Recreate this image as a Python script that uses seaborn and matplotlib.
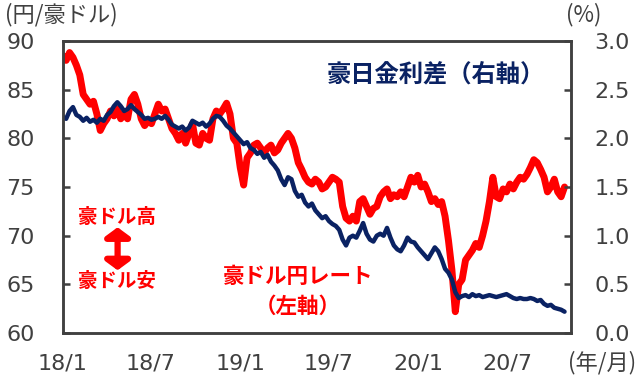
import pandas as pd
import matplotlib
matplotlib.use("Agg")
import matplotlib.pyplot as plt
import seaborn as sns

# weekly readings, starting first week of Jan 2018
start_date = "2018-01-01"

aud_jpy = [
    88.5, 88.0, 88.8, 88.3, 87.5, 86.5, 84.5, 84.0, 83.5, 83.8,
    82.5, 80.8, 81.5, 82.0, 82.8, 82.3, 83.0, 82.0, 82.5, 82.0,
    84.0, 84.5, 83.5, 82.0, 81.3, 81.8, 81.5, 82.5, 83.5, 82.8,
    83.0, 82.0, 81.0, 80.5, 79.8, 80.5, 79.5, 80.5, 81.5, 79.5,
    79.3, 80.5, 80.0, 79.8, 82.0, 82.8, 82.5, 83.0, 83.6, 82.5,
    80.0, 79.5, 77.0, 75.2, 78.0, 78.5, 79.3, 79.5, 79.0, 78.5,
    79.0, 79.3, 78.5, 78.8, 79.5, 80.0, 80.5, 80.0, 79.0, 77.5,
    76.8, 76.0, 75.5, 75.3, 75.8, 75.5, 74.8, 75.0, 75.5, 76.0,
    75.8, 75.5, 73.0, 71.8, 71.5, 72.0, 71.5, 73.5, 73.8, 73.0,
    72.2, 72.8, 73.0, 74.0, 74.5, 74.8, 73.8, 74.2, 74.0, 74.5,
    74.0, 75.0, 76.0, 75.5, 76.2, 75.0, 75.3, 74.5, 73.5, 73.8,
    73.2, 73.5, 72.0, 69.5, 66.5, 62.2, 65.0, 65.5, 67.5, 68.0,
    68.5, 69.2, 68.8, 70.0, 71.5, 73.5, 76.0, 74.0, 73.8, 74.8,
    74.5, 75.3, 74.8, 75.5, 76.0, 75.8, 76.3, 77.0, 77.8, 77.5,
    76.8, 76.0, 74.5, 75.0, 75.8, 74.5, 74.0, 75.0,
]

rate_diff = [
    2.22, 2.20, 2.28, 2.32, 2.24, 2.22, 2.18, 2.21, 2.17, 2.19,
    2.16, 2.20, 2.18, 2.24, 2.27, 2.33, 2.37, 2.33, 2.28, 2.30,
    2.34, 2.30, 2.27, 2.24, 2.20, 2.21, 2.19, 2.20, 2.22, 2.20,
    2.23, 2.19, 2.14, 2.12, 2.10, 2.12, 2.08, 2.11, 2.18, 2.16,
    2.14, 2.16, 2.12, 2.15, 2.20, 2.23, 2.22, 2.18, 2.13, 2.10,
    2.06, 2.02, 1.98, 1.94, 1.96, 1.90, 1.88, 1.84, 1.86, 1.80,
    1.83, 1.76, 1.72, 1.67, 1.58, 1.52, 1.60, 1.58, 1.46, 1.40,
    1.42, 1.34, 1.30, 1.33, 1.26, 1.22, 1.18, 1.20, 1.15, 1.12,
    1.10, 1.06, 0.96, 0.90, 0.98, 1.00, 0.98, 1.05, 1.13, 1.02,
    0.96, 0.94, 1.00, 1.02, 1.00, 1.08, 0.98, 0.90, 0.86, 0.84,
    0.90, 0.98, 0.94, 0.93, 0.88, 0.84, 0.80, 0.76, 0.82, 0.88,
    0.84, 0.76, 0.66, 0.62, 0.55, 0.42, 0.36, 0.38, 0.39, 0.37,
    0.40, 0.38, 0.39, 0.37, 0.38, 0.39, 0.38, 0.37, 0.38, 0.39,
    0.40, 0.38, 0.36, 0.35, 0.36, 0.35, 0.35, 0.36, 0.35, 0.33,
    0.34, 0.30, 0.28, 0.29, 0.26, 0.25, 0.24, 0.22,
]

tick_dates = ["2018-01-01", "2018-07-01", "2019-01-01", "2019-07-01",
              "2020-01-01", "2020-07-01"]
tick_labels = ["18/1", "18/7", "19/1", "19/7", "20/1", "20/7"]
left_ticks = [60, 65, 70, 75, 80, 85, 90]
right_ticks = [0.0, 0.5, 1.0, 1.5, 2.0, 2.5, 3.0]

df = pd.DataFrame({
    "date": pd.date_range(start_date, periods=len(aud_jpy), freq="7D"),
    "aud_jpy": aud_jpy,
    "rate_diff": rate_diff,
})

sns.set_style("white")
plt.rcParams["font.family"] = ["Noto Sans CJK JP", "DejaVu Sans"]

RED = "#ff0000"
NAVY = "#0a2263"
GRAY = "#404040"

fig = plt.figure(figsize=(6.4, 3.82), dpi=100)
ax = fig.add_axes([0.098, 0.128, 0.794, 0.765])
ax2 = ax.twinx()

sns.lineplot(data=df, x="date", y="aud_jpy", ax=ax, color=RED, lw=5)
sns.lineplot(data=df, x="date", y="rate_diff", ax=ax2, color=NAVY, lw=3.2)

ax.set_xlim(pd.Timestamp("2018-01-01"), pd.Timestamp("2020-11-08"))
ax.set_ylim(60, 90)
ax2.set_ylim(0, 3.0)

ax.set_xticks(pd.to_datetime(tick_dates))
ax.set_xticklabels(tick_labels)
ax.set_yticks(left_ticks)
ax2.set_yticks(right_ticks)
ax2.set_yticklabels([f"{v:.1f}" for v in right_ticks])

for a in (ax, ax2):
    a.set_xlabel("")
    a.set_ylabel("")
    for s in a.spines.values():
        s.set_color(GRAY)
        s.set_linewidth(1.8)
    a.tick_params(direction="in", length=5, width=1.8, color=GRAY,
                  labelcolor="#404040", labelsize=16)
    for lab in a.get_xticklabels() + a.get_yticklabels():
        lab.set_family("DejaVu Sans")
ax.tick_params(axis="x", pad=15)
ax.tick_params(axis="y", pad=20)
ax2.tick_params(axis="y", pad=17)

fig.text(0.008, 0.962, "(円/豪ドル)", fontsize=16, color=GRAY, va="center", ha="left")
fig.text(0.912, 0.962, "(%)", fontsize=16, color=GRAY, va="center", ha="center")
fig.text(0.94, 0.05, "(年/月)", fontsize=16, color=GRAY, va="center", ha="center")

ax.text(0.734, 0.884, "豪日金利差（右軸）", transform=ax.transAxes, fontsize=17.5,
        fontweight="bold", color=NAVY, ha="center", va="center")
ax.text(0.463, 0.195, "豪ドル円レート", transform=ax.transAxes, fontsize=15.5,
        fontweight="bold", color=RED, ha="center", va="center")
ax.text(0.463, 0.093, "（左軸）", transform=ax.transAxes, fontsize=15.5,
        fontweight="bold", color=RED, ha="center", va="center")
ax.text(0.106, 0.397, "豪ドル高", transform=ax.transAxes, fontsize=14,
        fontweight="bold", color=RED, ha="center", va="center")
ax.text(0.106, 0.175, "豪ドル安", transform=ax.transAxes, fontsize=14,
        fontweight="bold", color=RED, ha="center", va="center")
ax.annotate("", xy=(0.108, 0.215), xytext=(0.108, 0.362), xycoords="axes fraction",
            arrowprops=dict(arrowstyle="<|-|>, head_width=0.75, head_length=0.55",
                            color=RED, lw=4.5, shrinkA=0, shrinkB=0))

fig.savefig("out.png", dpi=100)
